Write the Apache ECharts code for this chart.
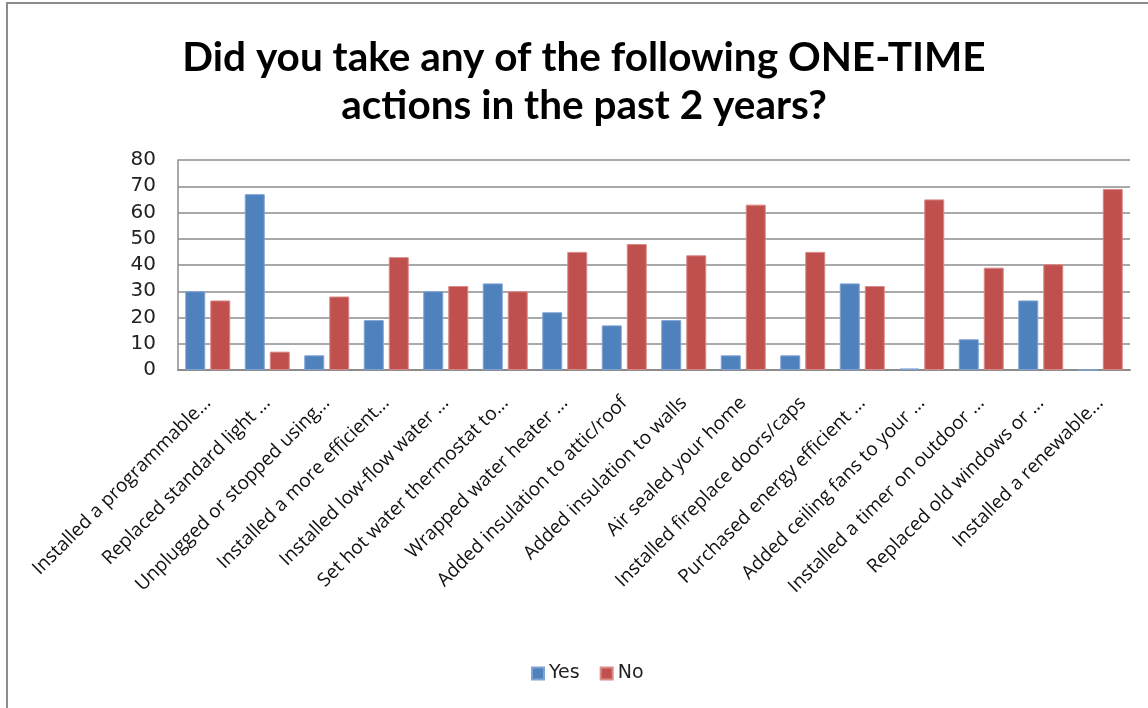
<!DOCTYPE html>
<html>
<head>
<meta charset="utf-8">
<script src="https://cdn.jsdelivr.net/npm/echarts@6/dist/echarts.min.js"></script>
<style>
  html, body { margin: 0; padding: 0; background: #fff; }
  #main { width: 1148px; height: 708px; }
</style>
</head>
<body>
<div id="main"></div>
<script>
var categories = [
  "Installed a programmable...",
  "Replaced standard light ...",
  "Unplugged or stopped using...",
  "Installed a more efficient...",
  "Installed low-flow water ...",
  "Set hot water thermostat to...",
  "Wrapped water heater ...",
  "Added insulation to attic/roof",
  "Added insulation to walls",
  "Air sealed your home",
  "Installed fireplace doors/caps",
  "Purchased energy efficient ...",
  "Added ceiling fans to your ...",
  "Installed a timer on outdoor ...",
  "Replaced old windows or ...",
  "Installed a renewable..."
];
var yesValues = [30, 67, 5.6, 19, 30, 33, 22, 17, 19, 5.6, 5.6, 33, 0.6, 11.7, 26.5, 0];
var noValues = [26.5, 7, 28, 43, 32, 30, 45, 48, 43.7, 63, 45, 32, 65, 39, 40.3, 69];
var yTicks = { min: 0, max: 80, interval: 10 };

var chartDom = document.getElementById("main");
var myChart = echarts.init(chartDom);
var option;

option = {
  backgroundColor: "#fff",
  animation: false,
  title: {
    text: "Did you take any of the following ONE-TIME\nactions in the past 2 years?",
    left: 579,
    textAlign: "center",
    top: 29,
    textStyle: {
      fontFamily: "Lato",
      fontWeight: "bold",
      fontSize: 40.5,
      lineHeight: 48,
      color: "#000"
    }
  },
  legend: {
    bottom: 20,
    left: 526,
    itemWidth: 12,
    itemHeight: 12,
    itemGap: 20,
    icon: "rect",
    textStyle: { fontFamily: "DejaVu Sans", fontSize: 19, color: "#222" },
    data: ["Yes", "No"]
  },
  grid: {
    left: 178,
    right: 18,
    top: 160,
    bottom: 338,
    containLabel: false
  },
  xAxis: {
    type: "category",
    data: categories,
    axisLine: { lineStyle: { color: "#8c8c8c", width: 2 } },
    axisTick: { show: false },
    axisLabel: {
      interval: 0,
      rotate: 45,
      margin: 30,
      fontFamily: "Open Sans",
      fontSize: 19,
      color: "#111"
    }
  },
  yAxis: {
    type: "value",
    min: yTicks.min,
    max: yTicks.max,
    interval: yTicks.interval,
    axisLine: { show: true, lineStyle: { color: "#8c8c8c", width: 1.5 } },
    axisTick: { show: false },
    splitLine: { lineStyle: { color: "#8c8c8c", width: 1.5 } },
    axisLabel: {
      margin: 22,
      fontFamily: "DejaVu Sans",
      fontSize: 20,
      color: "#222"
    }
  },
  series: [
    {
      name: "Yes",
      type: "bar",
      data: yesValues,
      barWidth: 20,
      barGap: "25%",
      itemStyle: { color: "#4F81BD", borderColor: "#7fa3d4", borderWidth: 1 }
    },
    {
      name: "No",
      type: "bar",
      data: noValues,
      barWidth: 20,
      itemStyle: { color: "#C0504D", borderColor: "#d98b89", borderWidth: 1 }
    }
  ],
  graphic: [
    {
      type: "line",
      shape: { x1: 6, y1: 3, x2: 1148, y2: 3 },
      style: { stroke: "#8c8c8c", lineWidth: 2 }
    },
    {
      type: "line",
      shape: { x1: 7, y1: 3, x2: 7, y2: 708 },
      style: { stroke: "#8c8c8c", lineWidth: 2 }
    }
  ]
};

option && myChart.setOption(option);
</script>
</body>
</html>
